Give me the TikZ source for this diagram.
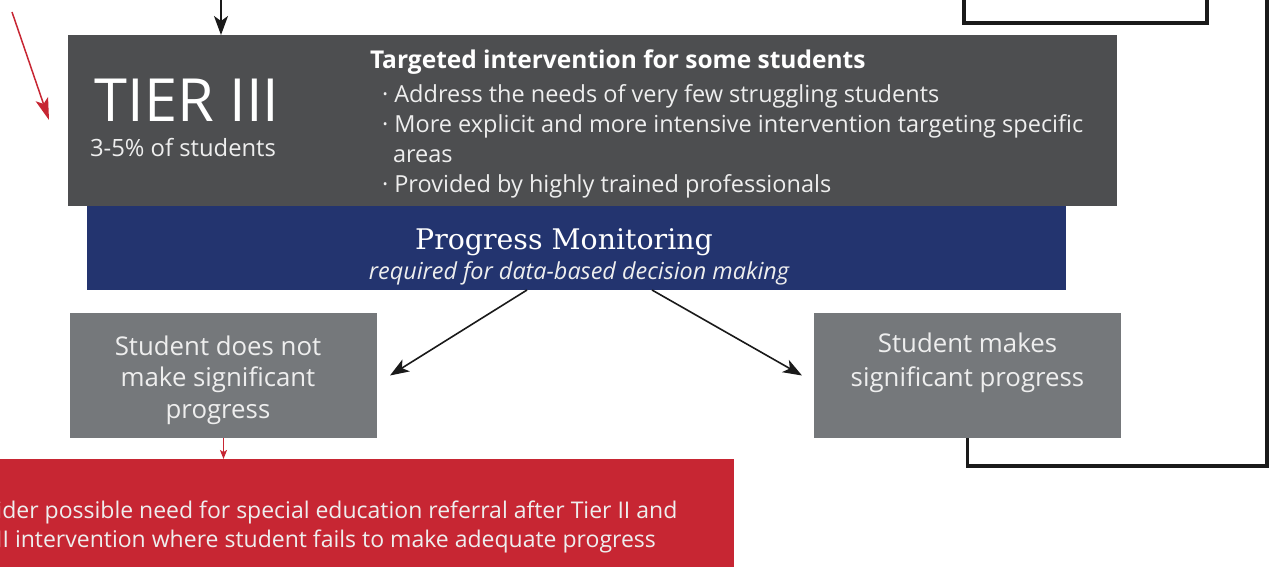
\documentclass[tikz,border=0pt]{standalone}
\usepackage{fontspec}
\setmainfont{Open Sans}
\newfontfamily\slabfont{DejaVu Serif}
\usepackage{xcolor}
\usepackage{tikz}
\usetikzlibrary{arrows.meta, positioning, calc}
\definecolor{tiergray}{HTML}{4D4E50}
\definecolor{navy}{HTML}{23346F}
\definecolor{boxgray}{HTML}{75787B}
\definecolor{alertred}{HTML}{C72633}
\definecolor{softwhite}{HTML}{EEEEEE}
\definecolor{linkblack}{HTML}{1A1A1A}
\newcommand{\firstline}[1]{\rule{0pt}{#1}}
\tikzset{
  panel/.style={rectangle, inner sep=0pt, outer sep=0pt},
  tierbox/.style ={panel, fill=tiergray, minimum width=1049pt, minimum height=171pt},
  monbox/.style  ={panel, fill=navy,     minimum width=979pt,  minimum height=84pt},
  outcome/.style ={panel, fill=boxgray,  minimum width=307pt,  minimum height=125pt},
  referbox/.style={panel, fill=alertred, minimum width=858pt,  minimum height=180pt},
  txt/.style={inner sep=0pt, outer sep=0pt, text=softwhite},
  outtxt/.style={txt, anchor=north, align=center},
  conn/.style={-{Stealth[length=19pt, width=14pt, inset=5pt]}, line width=1.6pt, color=linkblack},
  redconn/.style={-{Stealth[length=22pt, width=13pt, inset=5pt]}, line width=1.5pt, color=alertred},
  smallred/.style={-{Stealth[length=9pt, width=7pt, inset=2pt]}, line width=1.2pt, color=alertred},
  loopline/.style={line width=3.2pt, color=linkblack},
}
\begin{document}
\begin{tikzpicture}[x=1pt, y=-1pt, node distance=21pt and 437pt]
  \useasboundingbox (0,0) rectangle (1270,567);
  \clip (0,0) rectangle (1270,567);

  % ── Tier III block ───────────────────────────────────────────────────────
  \node[tierbox, anchor=north west] (tier) at (68,35) {};
  \node[txt, text=white, font=\fontsize{59.5}{60}\selectfont] (tiername) at (187,100) {TIER III};
  \node[txt, anchor=base, font=\fontsize{23.8}{24}\selectfont] (tierpct) at (183,157) {3-5\% of students};
  \node[txt, text=white, anchor=base west, font=\fontsize{24.5}{25}\selectfont\bfseries] (tierhead) at (370,69)
    {Targeted intervention for some students};
  \node[txt, anchor=north west, align=left, font=\fontsize{23.5}{30}\selectfont] (tierlist) at (382,83)
    {\firstline{20pt}· Address the needs of very few struggling students\\
     · More explicit and more intensive intervention targeting specific\\
     \hspace*{11pt}areas\\
     · Provided by highly trained professionals};

  % ── Progress monitoring band ─────────────────────────────────────────────
  \node[monbox, below=0pt of tier, xshift=-16pt] (pm) {};
  \node[txt, text=white, anchor=base, font=\fontsize{28.4}{28}\slabfont] (pmtitle) at (564,249) {Progress Monitoring};
  \node[txt, anchor=base, font=\fontsize{23.4}{24}\selectfont\itshape] (pmsub) at (579,279)
    {required for data-based decision making};

  % ── Outcomes ─────────────────────────────────────────────────────────────
  \node[outcome] (fail) at (223.5,375.5) {};
  \node[outcome, right=of fail] (pass) {};
  \node[outtxt, font=\fontsize{25.8}{31.5}\selectfont] (failtxt) at ([xshift=-5.5pt, yshift=-18pt]fail.north)
    {\firstline{24pt}Student does not\\make significant\\progress};
  \node[outtxt, font=\fontsize{25.8}{34}\selectfont] (passtxt) at ([yshift=-15pt]pass.north)
    {\firstline{24pt}Student makes\\significant progress};

  % ── Referral ─────────────────────────────────────────────────────────────
  \node[referbox, below=of fail, xshift=81.5pt] (refer) {};
  \node[txt, anchor=north west, align=left, font=\fontsize{23}{28.5}\selectfont] (refertxt) at (-57,498.7)
    {\firstline{20pt}Consider possible need for special education referral after Tier II and\\
     Tier III intervention where student fails to make adequate progress};

  % ── Frame ends ───────────────────────────────────────────────────────────
  \coordinate (topin)   at (221,0);
  \coordinate (redin)   at (12,12);
  \coordinate (redtip)  at (49,120);
  \coordinate (brkl)    at (964,0);
  \coordinate (brkr)    at (1207,0);
  \coordinate (loopend) at (1267,0);

  % ── Edges ────────────────────────────────────────────────────────────────
  \draw[conn] (topin) -- (topin |- tier.north);
  \draw[redconn] (redin) -- (redtip);
  \draw[loopline] (brkl) -- ++(0,23) -| (brkr);
  \draw[conn] ([xshift=-49.5pt]pm.south) -- ([xshift=13pt]fail.east);
  \draw[conn] ([xshift=75.5pt]pm.south)  -- ([xshift=-12pt]pass.west);
  \draw[loopline] (pass.south) -- ++(0,28) -| (loopend);
  \draw[smallred] (fail.south) -- (fail.south |- refer.north);

\end{tikzpicture}
\end{document}
